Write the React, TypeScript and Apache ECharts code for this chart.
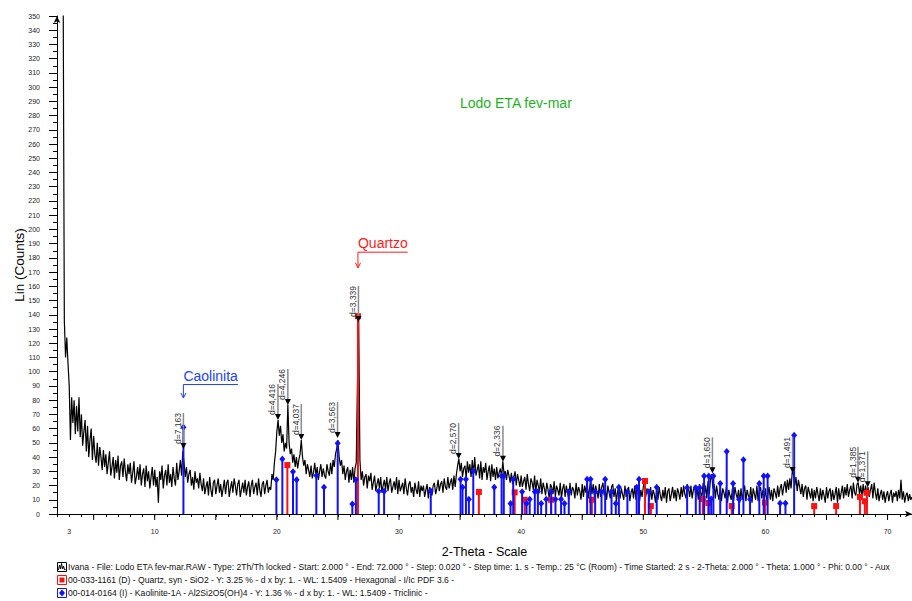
import React, { useEffect, useRef } from "react";
import * as echarts from "echarts";

const FONT = '"Liberation Sans", Arial, sans-serif';

// Diffractogram (Lin counts) sampled every 0.1° 2-theta, starting at 2.0°
const X_START = 2.0;
const X_STEP = 0.1;
const counts = [
  1200, 1000, 800, 620, 470, 380, 136, 110, 124, 106, 90, 52, 82, 64, 80, 56, 76, 58, 82, 54,
  70, 48, 58, 66, 44, 62, 40, 52, 60, 38, 55, 42, 36, 50, 34, 47, 40, 31, 45, 33,
  42, 28, 36, 44, 27, 33, 40, 25, 38, 29, 41, 24, 34, 37, 26, 39, 30, 23, 35, 28,
  36, 22, 29, 37, 21, 26, 33, 24, 35, 20, 28, 32, 19, 34, 23, 30, 18, 26, 33, 20,
  31, 19, 26, 8, 30, 24, 34, 18, 27, 31, 20, 35, 22, 28, 19, 33, 25, 20, 36, 24,
  30, 38, 27, 44, 36, 26, 33, 22, 28, 31, 20, 26, 17, 30, 22, 25, 18, 29, 21, 16,
  25, 14, 19, 23, 13, 26, 17, 12, 22, 24, 14, 20, 25, 15, 21, 12, 18, 24, 14, 22,
  24, 12, 18, 23, 15, 25, 20, 13, 21, 24, 12, 17, 22, 15, 24, 13, 19, 23, 12, 20,
  24, 14, 19, 22, 13, 25, 17, 12, 21, 23, 14, 20, 24, 15, 19, 17, 28, 24, 36, 44,
  58, 66, 55, 62, 50, 56, 44, 50, 46, 77, 50, 42, 46, 36, 42, 33, 40, 32, 38, 42,
  52, 40, 34, 38, 28, 35, 31, 26, 34, 25, 29, 36, 27, 33, 24, 30, 35, 26, 32, 27,
  25, 35, 30, 27, 36, 28, 38, 33, 42, 46, 52, 40, 34, 38, 28, 34, 24, 30, 33, 22,
  31, 24, 33, 22, 32, 36, 92, 136, 38, 24, 30, 20, 26, 28, 18, 27, 23, 29, 17, 22,
  27, 16, 21, 25, 18, 26, 15, 20, 24, 17, 26, 16, 22, 25, 15, 19, 23, 17, 26, 14,
  24, 16, 19, 22, 14, 25, 18, 13, 21, 23, 15, 19, 12, 22, 17, 14, 23, 12, 20, 16,
  20, 12, 17, 21, 11, 19, 15, 13, 20, 22, 14, 18, 24, 16, 21, 23, 15, 25, 19, 17,
  26, 18, 22, 25, 17, 27, 19, 28, 34, 39, 30, 36, 26, 32, 34, 25, 37, 29, 35, 26,
  38, 28, 40, 27, 31, 35, 25, 37, 24, 33, 29, 36, 24, 30, 34, 23, 35, 26, 32, 24,
  33, 25, 29, 32, 26, 37, 28, 30, 24, 31, 27, 22, 29, 21, 26, 30, 20, 28, 24, 19,
  27, 19, 23, 26, 17, 28, 21, 16, 25, 22, 17, 27, 15, 24, 20, 16, 25, 14, 22, 18,
  13, 22, 17, 11, 21, 19, 14, 23, 12, 20, 17, 13, 22, 11, 18, 21, 12, 20, 15, 10,
  22, 13, 19, 17, 11, 22, 13, 19, 16, 10, 21, 12, 20, 15, 22, 11, 18, 23, 14, 21,
  12, 20, 16, 11, 21, 12, 19, 22, 13, 17, 10, 20, 15, 11, 19, 21, 12, 18, 9, 16,
  19, 11, 18, 14, 10, 20, 12, 17, 19, 9, 15, 18, 11, 20, 10, 16, 19, 9, 17, 12,
  19, 23, 12, 18, 15, 9, 19, 10, 17, 14, 8, 18, 10, 19, 13, 9, 17, 11, 19, 8,
  16, 18, 9, 14, 19, 11, 17, 9, 18, 15, 10, 19, 12, 20, 14, 11, 21, 18, 12, 20,
  11, 17, 20, 12, 19, 10, 21, 15, 12, 22, 13, 20, 11, 23, 14, 24, 28, 18, 21, 11,
  20, 14, 10, 19, 9, 18, 15, 11, 19, 8, 17, 13, 10, 18, 9, 19, 14, 11, 17, 8,
  18, 10, 15, 20, 9, 17, 13, 11, 19, 8, 18, 14, 10, 20, 9, 16, 19, 11, 17, 10,
  18, 9, 14, 19, 10, 17, 9, 18, 15, 11, 20, 12, 18, 21, 13, 19, 23, 15, 24, 17,
  25, 18, 30, 28, 20, 26, 16, 24, 19, 14, 21, 12, 18, 20, 10, 19, 15, 11, 18, 9,
  17, 11, 19, 14, 9, 18, 10, 17, 13, 8, 19, 11, 16, 18, 9, 17, 10, 14, 19, 8,
  18, 10, 15, 20, 11, 19, 13, 21, 12, 17, 20, 11, 22, 15, 13, 21, 22, 14, 20, 12,
  21, 13, 20, 14, 19, 12, 17, 21, 11, 22, 15, 10, 18, 9, 14, 17, 10, 16, 8, 13,
  16, 9, 14, 17, 8, 15, 12, 16, 9, 17, 11, 24, 10, 16, 8, 13, 15, 9, 14, 10,
  12,
];

// Kaolinite-1A reference sticks (blue)
const kaoliniteTheta = [
  12.35, 19.96, 20.45, 21.32, 21.62, 23.23, 23.86, 24.98, 26.18, 26.47, 28.34, 28.78,
  32.6, 35.04, 35.2, 35.48, 35.72, 36.08, 37.8, 38.4, 38.58, 39.13, 39.35, 40.08,
  40.44, 40.7, 41.12, 41.37, 41.64, 42.05, 42.46, 42.81, 43.27, 43.55, 43.9, 45.4,
  45.68, 46.06, 46.58, 46.88, 47.4, 47.75, 48.0, 48.7, 49.46, 49.65, 50.45, 51.1,
  53.59, 54.3, 54.62, 54.98, 55.36, 55.56, 55.74, 56.3, 56.83, 57.35, 57.84, 58.2,
  58.74, 59.5, 59.86, 60.18, 61.2, 61.64, 62.35,
];
const kaoliniteCounts = [
  61, 24, 38.6, 29.7, 24, 27, 18.8, 49.7, 7, 24, 16, 16,
  16.2, 24.4, 18.8, 24.4, 10.3, 30.2, 18.8, 26.7, 26.7, 7.3, 24.4, 15.7,
  7.3, 10.3, 15.7, 15.7, 7.3, 10.3, 15.7, 10.3, 10.3, 7.3, 15.7, 24.4,
  24.4, 15.7, 15.7, 24.4, 15.7, 7.3, 18.8, 15.7, 18.8, 24.4, 15.7, 18.8,
  18.5, 18.5, 18.5, 26.7, 26.7, 10.5, 26.7, 21.5, 44, 21.5, 10.3, 38.2,
  10.3, 21.5, 26.7, 26.7, 7.5, 7.5, 55.3,
];

// Quartz reference sticks (red)
const quartzTheta = [20.86, 26.64, 36.54, 39.47, 40.29, 42.45, 45.79, 50.14, 50.62, 54.87, 55.33, 57.24, 59.96, 63.99, 65.79, 67.74, 68.14, 68.31];
const quartzCounts = [34.4, 139, 15.5, 15.2, 10, 10, 10, 23.2, 5.6, 10.5, 7.7, 5.6, 8, 5.6, 5.6, 12, 9, 15];

// d-spacing peak labels
const dLabels = ["d=7,163", "d=4,416", "d=4,246", "d=4,037", "d=3,563", "d=3,339", "d=2,570", "d=2,336", "d=1,650", "d=1,491", "d=1,385", "d=1,371"];
const dTheta = [12.35, 20.09, 20.9, 22.0, 24.97, 26.68, 34.88, 38.51, 55.66, 62.22, 67.58, 68.37];
const dCounts = [45.7, 66, 76.6, 52, 53.4, 135, 38.6, 36.8, 28.6, 28.8, 22, 18.8];

// Phase annotations
const phaseNames = ["Caolinita", "Quartzo"];
const phaseTheta = [12.35, 26.64];
const phaseArrowCounts = [81.5, 173];
const phaseBracketCounts = [91, 184];

// Axis ticks
const xTickLabels = [3, 10, 20, 30, 40, 50, 60, 70];
const xMajorTicks = [5, 10, 15, 20, 25, 30, 35, 40, 45, 50, 55, 60, 65, 70];

const legendTexts = [
  "Ivana - File: Lodo ETA fev-mar.RAW - Type: 2Th/Th locked - Start: 2.000 ° - End: 72.000 ° - Step: 0.020 ° - Step time: 1. s - Temp.: 25 °C (Room) - Time Started: 2 s - 2-Theta: 2.000 ° - Theta: 1.000 ° - Phi: 0.00 ° - Aux",
  "00-033-1161 (D) - Quartz, syn - SiO2 - Y: 3.25 % - d x by: 1. - WL: 1.5409 - Hexagonal - I/Ic PDF 3.6 -",
  "00-014-0164 (I) - Kaolinite-1A - Al2Si2O5(OH)4 - Y: 1.36 % - d x by: 1. - WL: 1.5409 - Triclinic -",
];

const BLUE = "#1010ff";
const RED = "#ff1010";
const phaseColors = ["#2040ff", "#ff1a1a"];

function measureText(text: string, font: string): number {
  const ctx = document.createElement("canvas").getContext("2d");
  if (!ctx) return text.length * 6;
  ctx.font = font;
  return ctx.measureText(text).width;
}

function stickSeries(name: string, theta: number[], vals: number[], color: string, marker: "diamond" | "square") {
  return {
    type: "custom",
    name,
    silent: true,
    z: 3,
    data: theta.map((t, i) => [t, vals[i]]),
    encode: { x: 0, y: 1 },
    renderItem: (_p: any, api: any) => {
      const top = api.coord([api.value(0), api.value(1)]);
      const base = api.coord([api.value(0), 0]);
      const m =
        marker === "diamond"
          ? { type: "polygon", shape: { points: [[top[0], top[1] - 3.5], [top[0] + 3, top[1]], [top[0], top[1] + 3.5], [top[0] - 3, top[1]]] }, style: { fill: color } }
          : { type: "rect", shape: { x: top[0] - 3, y: top[1] - 3, width: 6, height: 6 }, style: { fill: color } };
      return {
        type: "group",
        children: [
          { type: "line", shape: { x1: base[0], y1: base[1], x2: top[0], y2: top[1] }, style: { stroke: color, lineWidth: 2 } },
          m,
        ],
      };
    },
  };
}

export default function App() {
  const ref = useRef<HTMLDivElement>(null);

  useEffect(() => {
    if (!ref.current) return;
    const chart = echarts.init(ref.current, null, { renderer: "svg" });

    const traceData = counts.map((c, i) => [Math.round((X_START + i * X_STEP) * 100) / 100, c]);

    const option: any = {
      animation: false,
      backgroundColor: "#fff",
      title: {
        text: "Lodo ETA fev-mar",
        left: 460,
        top: 96,
        padding: 0,
        textStyle: { color: "#1db31d", fontSize: 14, fontWeight: "normal", fontFamily: FONT },
      },
      grid: { left: 57, right: 0, top: 16, bottom: 87, containLabel: false, outerBoundsMode: "none" },
      xAxis: {
        type: "value",
        min: 2,
        max: 72,
        interval: 1,
        name: "2-Theta - Scale",
        nameLocation: "middle",
        nameGap: 31,
        nameMoveOverlap: false,
        nameTextStyle: { color: "#000", fontSize: 12.5, fontFamily: FONT },
        axisLine: { show: true, onZero: false, lineStyle: { color: "#000", width: 1 }, symbol: ["none", "arrow"], symbolSize: [5, 7] },
        axisTick: { show: true, length: 3, lineStyle: { color: "#000" } },
        splitLine: { show: false },
        axisLabel: {
          color: "#222",
          fontSize: 7,
          fontFamily: FONT,
          margin: 13.5,
          formatter: (v: number) => (xTickLabels.indexOf(Math.round(v)) >= 0 ? String(Math.round(v)) : ""),
        },
      },
      yAxis: {
        type: "value",
        min: 0,
        max: 350,
        interval: 10,
        name: "Lin (Counts)",
        nameLocation: "middle",
        nameGap: 31,
        nameMoveOverlap: false,
        nameTextStyle: { color: "#000", fontSize: 13.5, fontFamily: FONT },
        axisLine: { show: true, lineStyle: { color: "#000", width: 1 }, symbol: ["none", "arrow"], symbolSize: [5, 7] },
        axisTick: { show: true, length: 8, lineStyle: { color: "#000" } },
        minorTick: { show: true, splitNumber: 2, length: 4, lineStyle: { color: "#000" } },
        splitLine: { show: false },
        minorSplitLine: { show: false },
        axisLabel: { color: "#222", fontSize: 7, fontFamily: FONT, margin: 17 },
      },
      series: [
        {
          type: "line",
          name: "Ivana",
          data: traceData,
          symbol: "none",
          clip: true,
          silent: true,
          z: 2,
          lineStyle: { color: "#000", width: 1.2 },
        },
        stickSeries("Quartz", quartzTheta, quartzCounts, RED, "square"),
        stickSeries("Kaolinite", kaoliniteTheta, kaoliniteCounts, BLUE, "diamond"),
        {
          type: "custom",
          name: "dLabels",
          silent: true,
          z: 5,
          data: dTheta.map((t, i) => [t, dCounts[i], i]),
          encode: { x: 0, y: 1 },
          renderItem: (_p: any, api: any) => {
            const i = api.value(2);
            const p = api.coord([api.value(0), api.value(1)]);
            const top = p[1] - 36;
            return {
              type: "group",
              children: [
                { type: "line", shape: { x1: p[0], y1: p[1] - 5, x2: p[0], y2: top }, style: { stroke: "#8a8a8a", lineWidth: 1.5 } },
                { type: "polygon", shape: { points: [[p[0] - 3, p[1] - 6], [p[0] + 3, p[1] - 6], [p[0], p[1]]] }, style: { fill: "#000" } },
                {
                  type: "text",
                  x: p[0] - 1,
                  y: top,
                  rotation: Math.PI / 2,
                  style: { text: dLabels[i], fill: "#333", fontSize: 8.5, fontFamily: FONT, align: "right", verticalAlign: "bottom" },
                },
              ],
            };
          },
        },
        {
          type: "custom",
          name: "phases",
          silent: true,
          z: 5,
          data: phaseTheta.map((t, i) => [t, phaseArrowCounts[i], phaseBracketCounts[i], i]),
          encode: { x: 0, y: 1 },
          renderItem: (_p: any, api: any) => {
            const i = api.value(3);
            const tip = api.coord([api.value(0), api.value(1)]);
            const br = api.coord([api.value(0), api.value(2)]);
            const color = phaseColors[i];
            const w = measureText(phaseNames[i], `14px ${FONT}`);
            return {
              type: "group",
              children: [
                { type: "polyline", shape: { points: [[tip[0], tip[1]], [tip[0], br[1]], [tip[0] + w, br[1]]] }, style: { stroke: color, lineWidth: 1, fill: null } },
                { type: "polyline", shape: { points: [[tip[0] - 2.5, tip[1] - 5], [tip[0], tip[1]], [tip[0] + 2.5, tip[1] - 5]] }, style: { stroke: color, lineWidth: 1, fill: null } },
                { type: "text", x: tip[0], y: br[1] - 2, style: { text: phaseNames[i], fill: color, fontSize: 14, fontFamily: FONT, align: "left", verticalAlign: "bottom" } },
              ],
            };
          },
        },
        {
          type: "custom",
          name: "majorTicks",
          silent: true,
          z: 4,
          data: xMajorTicks.map((v) => [v, 0]),
          encode: { x: 0, y: 1 },
          renderItem: (_p: any, api: any) => {
            const p = api.coord([api.value(0), 0]);
            return { type: "line", shape: { x1: p[0], y1: p[1], x2: p[0], y2: p[1] + 6 }, style: { stroke: "#000", lineWidth: 1 } };
          },
        },
      ],
      graphic: {
        elements: [
          { type: "rect", shape: { x: 57.5, y: 562.5, width: 9, height: 9 }, style: { stroke: "#000", fill: "#fff", lineWidth: 1 } },
          {
            type: "polyline",
            shape: { points: [[58.5, 570], [59.5, 565], [60.5, 569], [61.5, 563.5], [62.5, 569], [63.5, 566], [64.5, 570], [65.5, 569]] },
            style: { stroke: "#000", lineWidth: 1, fill: null },
          },
          { type: "text", x: 68, y: 567, style: { text: legendTexts[0], fill: "#111", fontSize: 8.6, fontFamily: FONT, verticalAlign: "middle" } },
          { type: "rect", shape: { x: 57.5, y: 575.5, width: 9, height: 9 }, style: { stroke: RED, fill: "#fff", lineWidth: 1 } },
          { type: "rect", shape: { x: 59.5, y: 577.5, width: 5, height: 5 }, style: { fill: RED } },
          { type: "text", x: 68, y: 580, style: { text: legendTexts[1], fill: "#111", fontSize: 8.6, fontFamily: FONT, verticalAlign: "middle" } },
          { type: "rect", shape: { x: 57.5, y: 588.5, width: 9, height: 9 }, style: { stroke: BLUE, fill: "#fff", lineWidth: 1 } },
          { type: "polygon", shape: { points: [[62, 589.5], [65, 593], [62, 596.5], [59, 593]] }, style: { fill: BLUE } },
          { type: "text", x: 68, y: 593, style: { text: legendTexts[2], fill: "#111", fontSize: 8.6, fontFamily: FONT, verticalAlign: "middle" } },
        ],
      },
    };

    chart.setOption(option);
    return () => chart.dispose();
  }, []);

  return <div ref={ref} style={{ position: "fixed", left: 0, top: 0, width: 912, height: 601, background: "#fff" }} />;
}
